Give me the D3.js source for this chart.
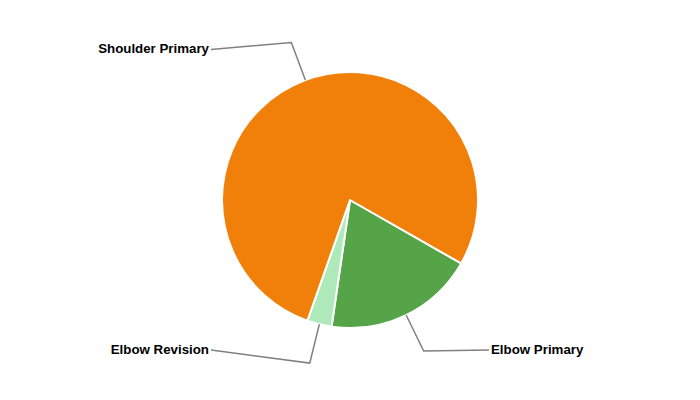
<!DOCTYPE html>
<html>
<head>
<meta charset="utf-8">
<script src="https://cdn.jsdelivr.net/npm/d3@7"></script>
<style>
html,body{margin:0;padding:0;background:#fff;}
svg{display:block;}
</style>
</head>
<body>
<svg id="chart" width="700" height="400"></svg>
<script>
const categories = ["Elbow Primary", "Elbow Revision", "Shoulder Primary"];
const values = [19.05, 3.1, 77.85];
const colors = ["#55A447", "#AEEAB9", "#F08009"];

const width = 700, height = 400;
const cx = 350, cy = 200, radius = 128;
const startDeg = 119.7;

const svg = d3.select("#chart");
const g = svg.append("g").attr("transform", `translate(${cx},${cy})`);

const data = categories.map((c, i) => ({ name: c, value: values[i], color: colors[i] }));

const pie = d3.pie().value(d => d.value).sort(null)
  .startAngle(startDeg * Math.PI / 180)
  .endAngle((startDeg + 360) * Math.PI / 180);
const arcs = pie(data);

const arc = d3.arc().innerRadius(0).outerRadius(radius);

g.selectAll("path.slice").data(arcs).join("path")
  .attr("class", "slice")
  .attr("d", arc)
  .attr("fill", d => d.data.color)
  .attr("stroke", "#fff")
  .attr("stroke-width", 2)
  .attr("stroke-linejoin", "round");

// leader lines and labels
const lineArc = d3.arc().innerRadius(radius).outerRadius(radius);
const outerArc = d3.arc().innerRadius(168).outerRadius(168);
const labelOffsetX = 139;
const yMin = 49.5 - cy, yMax = 350 - cy;

arcs.forEach(a => {
  const mid = (a.startAngle + a.endAngle) / 2;
  const p0 = lineArc.centroid(a);
  const p1 = outerArc.centroid(a);
  const right = Math.sin(mid) > 0;
  const lx = right ? labelOffsetX : -labelOffsetX;
  const ly = Math.max(yMin, Math.min(yMax, p1[1]));
  g.append("polyline")
    .attr("points", [p0, p1, [lx, ly]].map(p => p.join(",")).join(" "))
    .attr("fill", "none")
    .attr("stroke", "#808080")
    .attr("stroke-width", 1.5);
  g.append("text")
    .attr("x", right ? lx + 2 : lx - 2)
    .attr("y", ly - 1)
    .attr("dy", "0.35em")
    .attr("text-anchor", right ? "start" : "end")
    .attr("font-family", "'Liberation Sans', Arial, sans-serif")
    .attr("font-weight", "bold")
    .attr("font-size", 13.3)
    .attr("fill", "#000")
    .text(a.data.name);
});
</script>
</body>
</html>
